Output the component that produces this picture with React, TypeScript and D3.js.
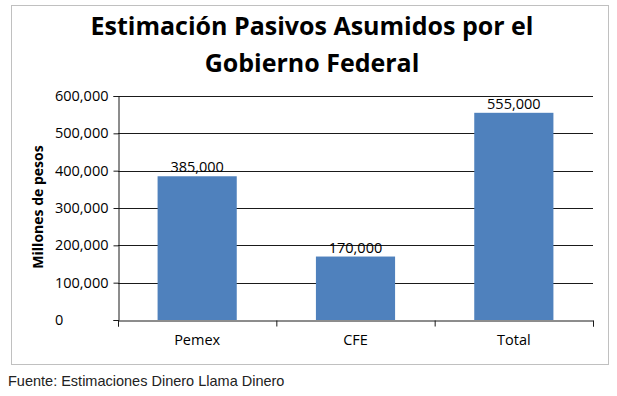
import React, { useEffect, useRef } from "react";
import * as d3 from "d3";

const categories = ["Pemex", "CFE", "Total"];
const values = [385000, 170000, 555000];
const yTicks = [0, 100000, 200000, 300000, 400000, 500000, 600000];
const titleLines = ["Estimación Pasivos Asumidos por el", "Gobierno Federal"];
const yTitle = "Millones de pesos";
const source = "Fuente: Estimaciones Dinero Llama Dinero";

function App() {
  const ref = useRef<SVGSVGElement>(null);

  useEffect(() => {
    drawChart();
  }, []);

  function drawChart() {
    const svg = d3.select(ref.current);
    svg.selectAll("*").remove();

    const width = 617;
    const height = 396;
    const font = "'Open Sans', sans-serif";

    svg.attr("width", width).attr("height", height);

    svg
      .append("rect")
      .attr("width", width)
      .attr("height", height)
      .attr("fill", "#ffffff");

    // chart frame
    svg
      .append("rect")
      .attr("x", 11.5)
      .attr("y", 5.5)
      .attr("width", 597)
      .attr("height", 359)
      .attr("fill", "#ffffff")
      .attr("stroke", "#c0c0c0");

    // title
    svg
      .selectAll(".title")
      .data(titleLines)
      .enter()
      .append("text")
      .attr("x", 312)
      .attr("y", (_, i) => 35 + i * 37)
      .attr("text-anchor", "middle")
      .style("font-family", font)
      .style("font-weight", "bold")
      .style("font-size", "25px")
      .text((d) => d);

    const x = d3
      .scaleBand()
      .domain(categories)
      .range([118, 593])
      .paddingInner(0.5)
      .paddingOuter(0.25);
    const y = d3.scaleLinear().domain([0, 600000]).range([320, 96]);

    // gridlines
    svg
      .selectAll(".grid")
      .data(yTicks.slice(1))
      .enter()
      .append("line")
      .attr("x1", 118)
      .attr("x2", 593)
      .attr("y1", (d) => Math.round(y(d)) + 0.5)
      .attr("y2", (d) => Math.round(y(d)) + 0.5)
      .attr("stroke", "#1a1a1a");

    // bars
    svg
      .selectAll(".bar")
      .data(values)
      .enter()
      .append("rect")
      .attr("x", (_, i) => x(categories[i]) as number)
      .attr("y", (d) => y(d))
      .attr("width", x.bandwidth())
      .attr("height", (d) => y(0) - y(d))
      .attr("fill", "#4f81bd");

    // value labels
    svg
      .selectAll(".lbl")
      .data(values)
      .enter()
      .append("text")
      .attr("x", (_, i) => (x(categories[i]) as number) + x.bandwidth() / 2)
      .attr("y", (d) => y(d) - 4)
      .attr("text-anchor", "middle")
      .style("font-family", font)
      .style("font-size", "14.5px")
      .text((d) => d3.format(",")(d));

    // y axis, labels left aligned like the original
    const yAxis = d3
      .axisLeft(y)
      .tickValues(yTicks)
      .tickSize(5)
      .tickFormat((d) => d3.format(",")(d as number));

    const gy = svg.append("g").attr("transform", "translate(118.5,0)").call(yAxis);
    gy.select(".domain").attr("stroke", "#1a1a1a");
    gy.selectAll(".tick line").attr("stroke", "#1a1a1a");
    gy.selectAll(".tick text")
      .attr("x", -63.5)
      .attr("text-anchor", "start")
      .style("font-family", font)
      .style("font-size", "14.5px")
      .attr("fill", "#000");

    // x axis
    const xAxis = d3
      .axisBottom(d3.scaleLinear().domain([0, 3]).range([118, 593]))
      .ticks(3)
      .tickSize(6)
      .tickFormat(() => "");

    const gx = svg.append("g").attr("transform", "translate(0,320.5)").call(xAxis);
    gx.select(".domain").attr("stroke", "#1a1a1a");
    gx.selectAll(".tick line").attr("stroke", "#1a1a1a");

    svg
      .selectAll(".cat")
      .data(categories)
      .enter()
      .append("text")
      .attr("x", (d) => (x(d) as number) + x.bandwidth() / 2)
      .attr("y", 345)
      .attr("text-anchor", "middle")
      .style("font-family", font)
      .style("font-size", "14.5px")
      .text((d) => d);

    // y axis title
    svg
      .append("text")
      .attr("transform", "translate(43,207) rotate(-90)")
      .attr("text-anchor", "middle")
      .style("font-family", font)
      .style("font-weight", "bold")
      .style("font-size", "14px")
      .text(yTitle);

    // source note
    svg
      .append("text")
      .attr("x", 8)
      .attr("y", 386)
      .style("font-family", "'Liberation Sans', Arial, sans-serif")
      .style("font-size", "14.5px")
      .attr("fill", "#222")
      .text(source);
  }

  return (
    <svg ref={ref} style={{ position: "absolute", left: 0, top: 0 }}></svg>
  );
}

export default App;
